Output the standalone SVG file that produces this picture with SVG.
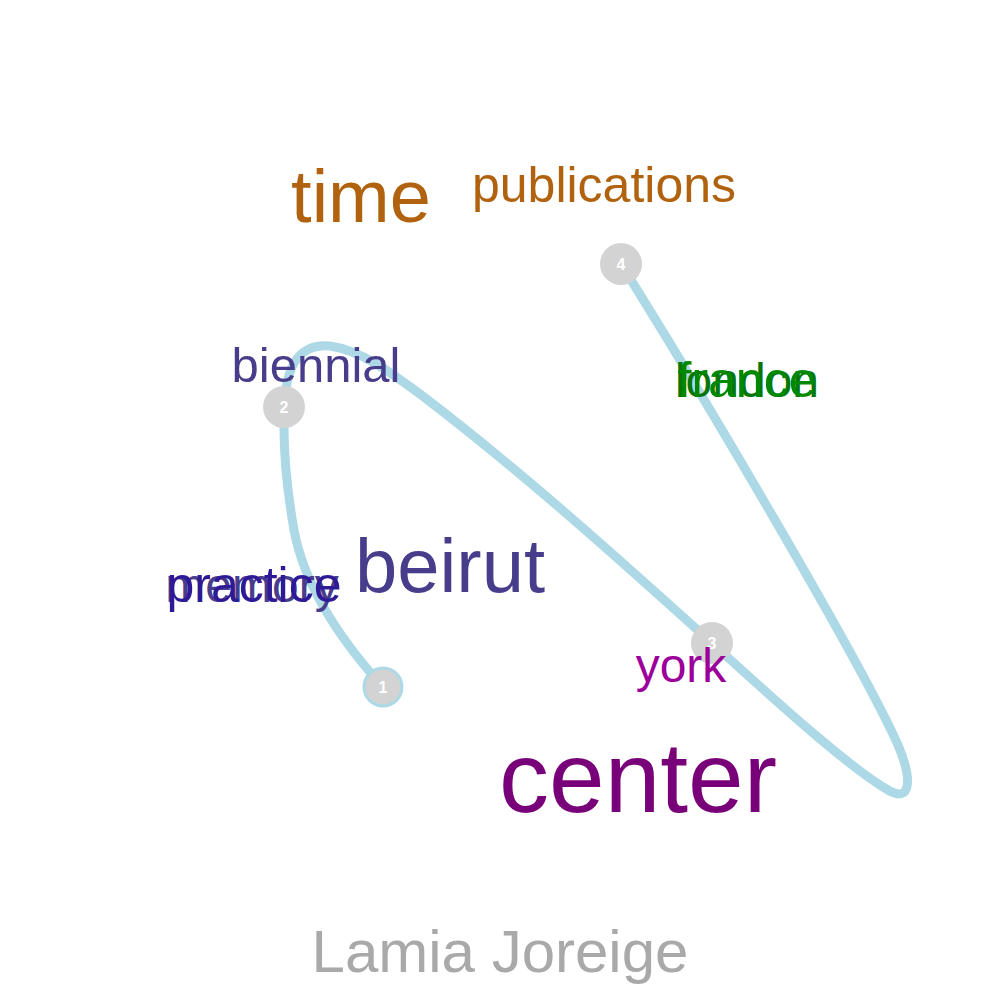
<svg xmlns="http://www.w3.org/2000/svg" width="1000" height="1000" viewBox="0 0 1000 1000">
<style>
text{font-family:"Liberation Sans",Arial,sans-serif;}
.w{text-anchor:middle;}
.n circle{fill:#D3D3D3;}
.n text{fill:#FFFFFF;font-size:16px;font-weight:bold;text-anchor:middle;}
.route{fill:none;stroke:#ADD8E6;stroke-width:9;stroke-linecap:round;stroke-linejoin:round;}
</style>
<rect width="1000" height="1000" fill="#FFFFFF"/>
<g id="connectors">
<path class="route" d="M383,687 C345,645 305,590 294,530 C287,490 282,440 285,400 C287,365 300,343 330,346 C360,350 390,372 420,394 C520,470 620,560 712,643 C780,705 850,768 888,790 C912,804 912,778 898,745 C860,660 700,390 621,264"/>
</g>
<g id="node1" class="n"><circle cx="383" cy="687" r="19" stroke="#ADD8E6" stroke-width="3"/><text x="383" y="693">1</text></g>
<g id="node2" class="n"><circle cx="284" cy="407" r="21"/><text x="284" y="413">2</text></g>
<g id="node3" class="n"><circle cx="712" cy="643" r="21"/><text x="712" y="649">3</text></g>
<g id="node4" class="n"><circle cx="621" cy="264" r="21"/><text x="621" y="270">4</text></g>
<g id="words">
<text id="w-time" class="w" x="361" y="222" font-size="74" fill="#B1620F">time</text>
<text id="w-publications" class="w" x="604" y="202" font-size="50" fill="#B1620F">publications</text>
<text id="w-biennial" class="w" x="316" y="382" font-size="49" fill="#483D8B">biennial</text>
<text id="w-beirut" class="w" x="450" y="592" font-size="76" fill="#483D8B">beirut</text>
<text id="w-memory" class="w" x="252" y="602" font-size="48" fill="#483D8B">memory</text>
<text id="w-practice" class="w" x="254" y="602" font-size="50" fill="#2E1A96">practice</text>
<text id="w-london" class="w" x="747" y="397" font-size="48" fill="#077507">london</text>
<text id="w-france" class="w" x="747" y="397" font-size="50" fill="#008800">france</text>
<text id="w-york" class="w" x="681" y="682" font-size="48" fill="#9B009B">york</text>
<text id="w-center" class="w" x="638" y="812" font-size="100" fill="#780078">center</text>
<text id="w-title" class="w" x="500" y="972" font-size="60" fill="#A9A9A9">Lamia Joreige</text>
</g>
</svg>
